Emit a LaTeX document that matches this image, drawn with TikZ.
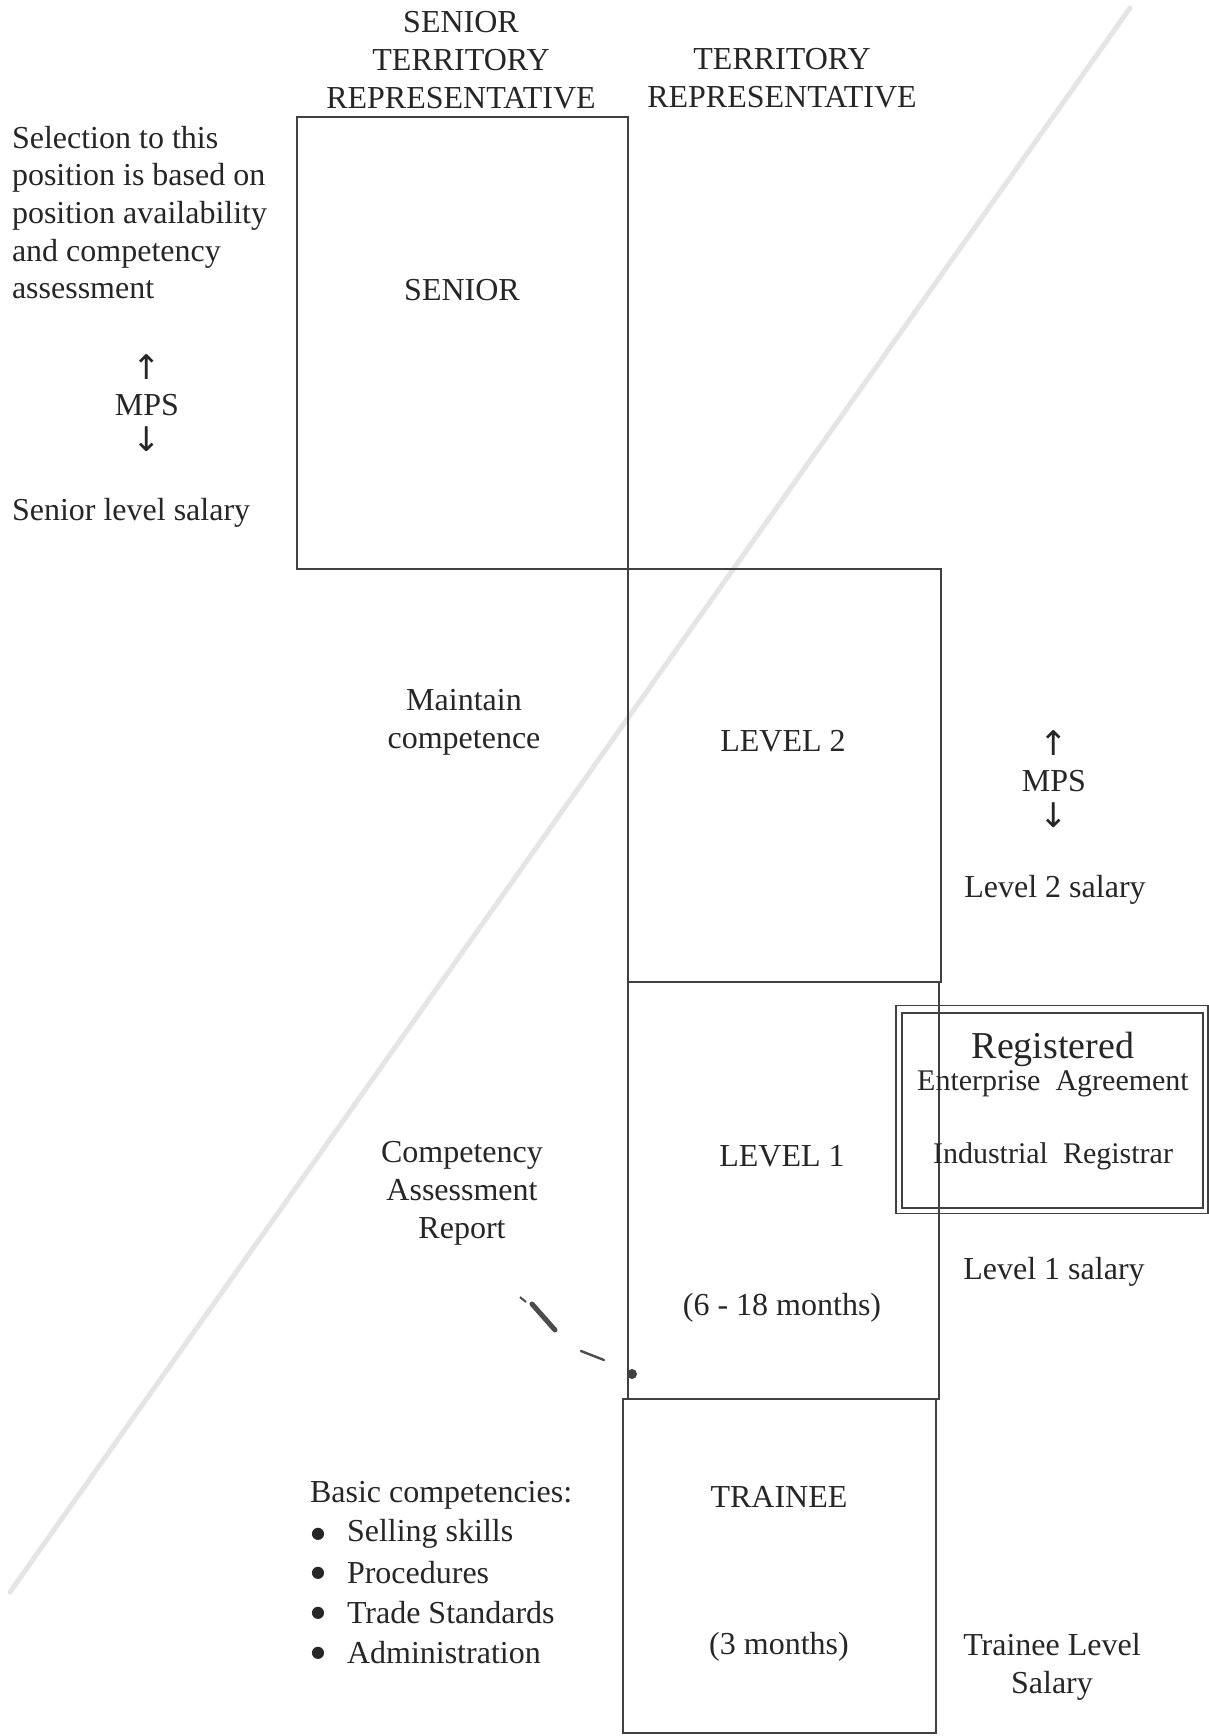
\documentclass[tikz,border=0pt]{standalone}
\usepackage{fontspec}
\setmainfont{Liberation Serif}
\newfontfamily\arrowfont{DejaVu Sans}
\begin{document}
\begin{tikzpicture}[x=0.5pt,y=-0.5pt,
  every node/.style={inner sep=0pt, outer sep=0pt},
  txt/.style={font=\fontsize{16}{19}\selectfont, align=center, text=black!85},
  ltxt/.style={font=\fontsize{16}{19}\selectfont, align=left, anchor=west, text=black!85},
  boxtxt/.style={font=\fontsize{15}{18}\selectfont, text=black!85},
  lvlbox/.style={draw=black!75, line width=1pt, rectangle, inner sep=0pt},
]
\useasboundingbox (0,0) rectangle (1209,1736);
\fill[white] (0,0) rectangle (1209,1736);

% faint diagonal scan streak
\draw[black!10, line width=2.5pt, line cap=round] (10,1592) -- (1130,8);

% boxes
\node[lvlbox, minimum width=165.5pt, minimum height=226pt] (senior) at (462.5,343) {};
\node[lvlbox, minimum width=156.5pt, minimum height=206.5pt] (lvltwo) at (784.5,775.5) {};
\node[lvlbox, minimum width=155.5pt, minimum height=208.5pt] (lvlone) at (783.5,1190.5) {};
\node[lvlbox, minimum width=156.5pt, minimum height=167pt] (trainee) at (779.5,1566) {};

% registered agreement box (double line)
\node[draw=black!75, line width=0.9pt, rectangle, minimum width=156pt, minimum height=104pt] (regbox) at (1052,1109.5) {};
\node[draw=black!75, line width=0.7pt, rectangle, minimum width=150.5pt, minimum height=97.5pt] (reginner) at (1052.5,1110.5) {};

% headers
\node[txt] (hsenior) at (461,60) {SENIOR\\TERRITORY\\REPRESENTATIVE};
\node[txt] (hterr) at (782,78) {TERRITORY\\REPRESENTATIVE};

% left column
\node[ltxt, anchor=north west, font=\fontsize{16}{18.8}\selectfont] (selection) at (12,126) {Selection to this\\position is based on\\position availability\\and competency\\assessment};
\node[txt] (mpsleft) at (147,403) {{\arrowfont\fontsize{17}{19}\selectfont ↑}\\[-1pt]MPS\\[-1pt]{\arrowfont\fontsize{17}{19}\selectfont ↓}};
\node[ltxt] (seniorsal) at (12,513) {Senior level salary};

\node[txt] (seniorlbl) at (462,290) {SENIOR};

\node[txt] (maintain) at (464,722) {Maintain\\competence};
\node[txt] (lvl2lbl) at (783,741) {LEVEL 2};
\node[txt] (mpsright) at (1054,779) {{\arrowfont\fontsize{17}{19}\selectfont ↑}\\[-1pt]MPS\\[-1pt]{\arrowfont\fontsize{17}{19}\selectfont ↓}};
\node[txt] (lvl2sal) at (1055,890) {Level 2 salary};

\node[font=\fontsize{19}{20}\selectfont, text=black!85] (registered) at (1053,1049) {Registered};
\node[boxtxt] (enterprise) at (1053,1084) {Enterprise\ \ Agreement};
\node[boxtxt] (industrial) at (1053,1156) {Industrial\ \ Registrar};

\node[txt] (competency) at (462,1193) {Competency\\Assessment\\Report};
\node[txt] (lvl1lbl) at (782,1156) {LEVEL 1};
\node[txt] (lvl1dur) at (782,1308) {(6 - 18 months)};
\node[txt] (lvl1sal) at (1054,1272) {Level 1 salary};

\node[ltxt] (basic) at (310,1495) {Basic competencies:};
\foreach \y/\t/\n in {1534/Selling skills/a,1573/Procedures/b,1613/Trade Standards/c,1653/Administration/d}{
  \node[text=black!85, font=\arrowfont\fontsize{8}{8}\selectfont] (bul\n) at (318,\y) {●};
  \node[ltxt] (item\n) at (347,\y) {\t};
}
\node[txt] (trlbl) at (779,1497) {TRAINEE};
\node[txt] (trdur) at (779,1647) {(3 months)};
\node[txt] (trsal) at (1052,1667) {Trainee Level\\Salary};

% scan specks
\draw[black!70, line width=2.5pt, line cap=round] (532,1304) -- (555,1330);
\draw[black!70, line width=1pt] (520,1297) -- (526,1302);
\draw[black!70, line width=1.2pt, line cap=round] (581,1351) -- (604,1360);
\fill[black!75] (632,1374) circle (5);
\end{tikzpicture}
\end{document}
